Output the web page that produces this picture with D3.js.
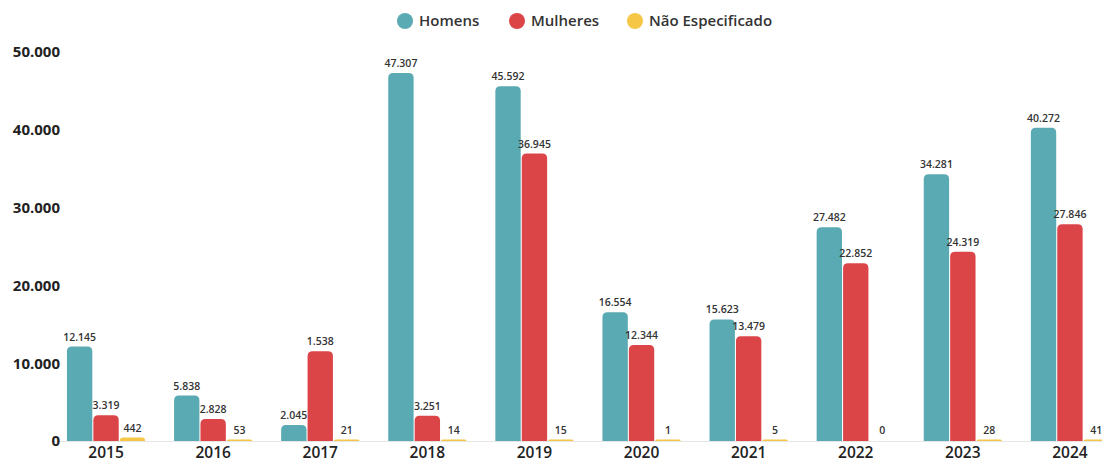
<!DOCTYPE html>
<html>
<head>
<meta charset="utf-8">
<script src="https://cdn.jsdelivr.net/npm/d3@7"></script>
<style>
  body { margin: 0; background: #fff; }
  text { font-family: "Open Sans", sans-serif; }
</style>
</head>
<body>
<div id="chart"></div>
<script>
//// data
var years = ["2015", "2016", "2017", "2018", "2019", "2020", "2021", "2022", "2023", "2024"];
var series = ["Homens", "Mulheres", "Não Especificado"];
var homens = [12145, 5838, 2045, 47307, 45592, 16554, 15623, 27482, 34281, 40272];
var mulheres = [3319, 2828, 11538, 3251, 36945, 12344, 13479, 22852, 24319, 27846];
var naoEspecificado = [442, 53, 21, 14, 15, 1, 5, 0, 28, 41];
// label printed on the original differs from the bar height for this one
var labelOverride = { "2017|Mulheres": "1.538" };
var yTicks = [0, 10000, 20000, 30000, 40000, 50000];

var colors = { "Homens": "#5aaab3", "Mulheres": "#dc4548", "Não Especificado": "#f6c647" };

//// chart
var W = 1102, H = 462;
var svg = d3.select("#chart").append("svg")
  .attr("width", W).attr("height", H);

var ptBR = d3.formatLocale({ decimal: ",", thousands: ".", grouping: [3], currency: ["R$", ""] });
var fmt = ptBR.format(",d");

var y = d3.scaleLinear().domain([0, 50000]).range([441, 52]);

var x0 = d3.scaleBand().domain(years).range([52.5, 1123.5]).paddingInner(0.25).paddingOuter(0.125);
var x1 = d3.scaleBand().domain(series).range([0, x0.bandwidth()]).padding(0.04);

var rows = years.map(function(yr, i) {
  return { year: yr, values: [
    { key: "Homens", v: homens[i] },
    { key: "Mulheres", v: mulheres[i] },
    { key: "Não Especificado", v: naoEspecificado[i] }
  ]};
});

// baseline
svg.append("line")
  .attr("x1", 52).attr("x2", W)
  .attr("y1", y(0) + 0.5).attr("y2", y(0) + 0.5)
  .attr("stroke", "#e6e6e6");

// y axis labels
svg.append("g").selectAll("text")
  .data(yTicks)
  .enter().append("text")
  .attr("x", 60)
  .attr("y", function(d) { return y(d); })
  .attr("dy", "0.36em")
  .attr("text-anchor", "end")
  .attr("font-size", 15)
  .attr("font-weight", 700)
  .attr("fill", "#222")
  .text(function(d) { return fmt(d); });

// top-rounded bar path
function barPath(x, yt, w, h, r) {
  r = Math.min(r, h, w / 2);
  var yb = yt + h;
  return "M" + x + "," + yb +
    "V" + (yt + r) +
    "Q" + x + "," + yt + " " + (x + r) + "," + yt +
    "H" + (x + w - r) +
    "Q" + (x + w) + "," + yt + " " + (x + w) + "," + (yt + r) +
    "V" + yb + "Z";
}

var groups = svg.append("g").selectAll("g")
  .data(rows)
  .enter().append("g")
  .attr("transform", function(d) { return "translate(" + x0(d.year) + ",0)"; });

groups.selectAll("path")
  .data(function(d) { return d.values.filter(function(e) { return e.v > 0; }); })
  .enter().append("path")
  .attr("d", function(d) {
    var h = Math.max(1.5, y(0) - y(d.v));
    return barPath(x1(d.key), y(0) - h, x1.bandwidth(), h, 5);
  })
  .attr("fill", function(d) { return colors[d.key]; });

groups.selectAll("text.val")
  .data(function(d) { return d.values.map(function(e) { return { year: d.year, key: e.key, v: e.v }; }); })
  .enter().append("text")
  .attr("class", "val")
  .attr("x", function(d) { return x1(d.key) + x1.bandwidth() / 2; })
  .attr("y", function(d) { return Math.min(y(d.v), y(0) - 1.5) - 6; })
  .attr("text-anchor", "middle")
  .attr("font-size", 10.5)
  .attr("font-weight", 600)
  .attr("fill", "#333")
  .text(function(d) { return labelOverride[d.year + "|" + d.key] || fmt(d.v); });

// x axis labels
svg.append("g").selectAll("text")
  .data(years)
  .enter().append("text")
  .attr("x", function(d) { return x0(d) + x0.bandwidth() / 2; })
  .attr("y", 453)
  .attr("dy", "0.35em")
  .attr("text-anchor", "middle")
  .attr("font-size", 15.5)
  .attr("font-weight", 600)
  .attr("fill", "#222")
  .text(function(d) { return d; });

//// legend
var legendX = [405, 517, 635];
var legend = svg.append("g").selectAll("g")
  .data(series)
  .enter().append("g")
  .attr("transform", function(d, i) { return "translate(" + legendX[i] + ",21)"; });

legend.append("circle")
  .attr("r", 8)
  .attr("fill", function(d) { return colors[d]; });

legend.append("text")
  .attr("x", 14)
  .attr("dy", "0.35em")
  .attr("font-size", 15)
  .attr("font-weight", 600)
  .attr("fill", "#333")
  .text(function(d) { return d; });
</script>
</body>
</html>
